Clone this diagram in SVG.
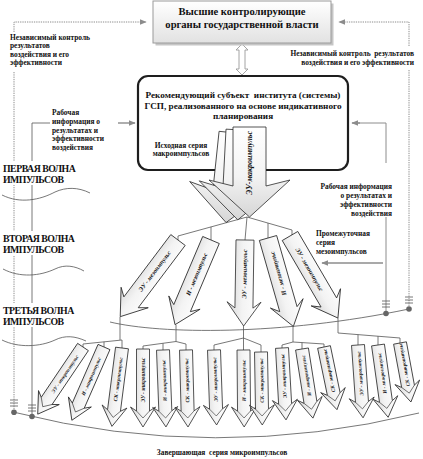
<svg xmlns="http://www.w3.org/2000/svg" width="423" height="459" viewBox="0 0 423 459">
<defs>
<style>
.t{font-family:'Liberation Serif','Times New Roman',serif;font-weight:bold;fill:#111}
.s{font-size:7.4px}
.w{font-size:9.8px;letter-spacing:-0.5px}
.b{font-size:10.6px}
.m{font-size:9.2px}
.ml{font-size:6.3px;font-style:italic;text-anchor:middle}
.mi{font-size:5.2px;font-style:italic;text-anchor:middle}
.arr{fill:url(#gA);stroke:#2a2a2a;stroke-width:0.8;stroke-linejoin:miter}
.v{fill:none;stroke:#2a2a2a;stroke-width:0.6}
.ln{fill:none;stroke:#555;stroke-width:0.8}
.gl{fill:none;stroke:#8c8c8c;stroke-width:1}
.dt{fill:none;stroke:#808080;stroke-width:0.9;stroke-dasharray:1.3,1}
.ga{fill:none;stroke:#8c8c8c;stroke-width:1.4}
.gnd{fill:#666}
</style>
<linearGradient id="gB" x1="0" y1="0" x2="0" y2="1"><stop offset="0" stop-color="#ffffff"/><stop offset="1" stop-color="#e2e2e2"/></linearGradient>
<linearGradient id="gA" x1="0" y1="0" x2="0" y2="1"><stop offset="0" stop-color="#ffffff"/><stop offset="0.55" stop-color="#f3f3f3"/><stop offset="1" stop-color="#d6d6d6"/></linearGradient>
<marker id="mg" viewBox="0 0 10 8" refX="9" refY="4" markerWidth="7" markerHeight="6" orient="auto" markerUnits="userSpaceOnUse"><path d="M0,0 L10,4 L0,8 Z" fill="#8c8c8c"/></marker>
<path id="mac" d="M233,127 H266 V186 L290,180 L249.5,217 L209,180 L233,186 Z"/>
</defs>
<rect width="423" height="459" fill="#fff"/>

<g id="connectors">
<path class="dt" d="M14,32 V22 H146" marker-end="url(#mg)"/>
<path class="dt" d="M14,72 V412"/>
<path class="dt" d="M409,46 V22 H339" marker-end="url(#mg)"/>
<path class="dt" d="M409,70 V309"/>
<path class="ln" d="M50,123 H32 V416.5"/>
<path class="ga" d="M118,123 H135" marker-end="url(#mg)"/>
<path class="gl" d="M386,163 V123 H358"/>
<path class="ga" d="M360,123 H352" marker-end="url(#mg)"/>
<path class="gl" d="M386,217 V313.5"/>
<path class="ga" d="M153,163 H215" marker-end="url(#mg)"/>
<path class="ga" d="M383,263 H322" marker-end="url(#mg)"/>
<path d="M242,44 L248,50 L245,50 L245,69 L248,69 L242,75 L236,69 L239,69 L239,50 L236,50 Z" fill="#fff" stroke="#9a9a9a" stroke-width="0.9"/>
<path class="ln" d="M178,240 V236 L247,217 L292,230 V236 M211,226.9 V240 M268,223.1 V238 M247,217 L245,240"/>
<path class="ln" d="M110,322 C160,334 280,336 409,309"/>
<path class="ln" d="M13,412 Q215,463 419,413"/>
<path class="ln" d="M120,317 V340 M83,347 V344 L122,340 V348 M104,341.8 V347"/>
<path class="ln" d="M176,325 V341.5 M143,349 V346 L176,341.5 L186,344 V350 M163,343.3 V350"/>
<path class="ln" d="M243.5,326 V350 M214,350 V345 L243.5,338 L261,345 V352"/>
<path class="ln" d="M293,326 V342 M282,348 V345 L293,342 L324,344 V347 M302,342.6 V349"/>
<path class="ln" d="M338,318 V333 L400,338 V343 M358,334.6 V345 M378,336.2 V345"/>
<path class="ln" d="M10,400 H18 M10,403 H18 M10,406 H18 M28,405 H36 M28,408 H36 M28,411 H36 M382,301 H390 M382,304 H390 M382,307 H390 M405,297 H413 M405,300 H413 M405,303 H413"/>
<circle class="gnd" cx="14" cy="412.2" r="2.8"/>
<circle class="gnd" cx="32" cy="416.5" r="2.8"/>
<circle class="gnd" cx="386" cy="313.5" r="2.8"/>
<circle class="gnd" cx="409" cy="309" r="2.8"/>
</g>

<g id="top-box">
<rect x="155.5" y="3.5" width="178" height="42" fill="#c6c6c6"/>
<rect x="153" y="1" width="178" height="42" fill="url(#gB)" stroke="#9a9a9a" stroke-width="1"/>
<text class="t b" x="242" y="15" text-anchor="middle">Высшие контролирующие</text>
<text class="t b" x="242" y="28" text-anchor="middle">органы государственной власти</text>
</g>

<g id="mid-box">
<rect x="138" y="76" width="210" height="94" rx="10" fill="#fff" stroke="#1e1e1e" stroke-width="2.2"/>
<text class="t m" x="243" y="98" text-anchor="middle">Рекомендующий субъект&#160; института (системы)</text>
<text class="t m" x="243" y="108.5" text-anchor="middle">ГСП, реализованного на основе индикативного</text>
<text class="t m" x="243" y="118.5" text-anchor="middle">планирования</text>
</g>

<g id="labels">
<text class="t s" x="10" y="39.5">Независимый контроль</text>
<text class="t s" x="10" y="48">результатов</text>
<text class="t s" x="10" y="56.5">воздействия и его</text>
<text class="t s" x="10" y="65">эффективности</text>
<text class="t s" x="414" y="55.5" text-anchor="end">Независимый контроль&#160; результатов</text>
<text class="t s" x="414" y="65" text-anchor="end">воздействия и его эффективности</text>
<text class="t s" x="52" y="114.5">Рабочая</text>
<text class="t s" x="52" y="124">информация о</text>
<text class="t s" x="52" y="132.5">результатах и</text>
<text class="t s" x="52" y="141">эффективности</text>
<text class="t s" x="52" y="149.5">воздействия</text>
<text class="t s" x="181" y="147.5" text-anchor="middle">Исходная серия</text>
<text class="t s" x="181" y="156" text-anchor="middle">макроимпульсов</text>
<text class="t s" x="392" y="188.5" text-anchor="end">Рабочая информация</text>
<text class="t s" x="392" y="197.5" text-anchor="end">о результатах и</text>
<text class="t s" x="392" y="206.5" text-anchor="end">эффективности</text>
<text class="t s" x="392" y="215.5" text-anchor="end">воздействия</text>
<text class="t s" x="316" y="235.5">Промежуточная</text>
<text class="t s" x="316" y="244.5">серия</text>
<text class="t s" x="316" y="254">мезоимпульсов</text>
<text class="t s" x="222" y="455" text-anchor="middle">Завершающая&#160; серия микроимпульсов</text>
</g>

<g id="waves">
<rect x="0" y="161" width="78" height="24" fill="#fff"/>
<text class="t w" x="3" y="171.5">ПЕРВАЯ ВОЛНА</text>
<text class="t w" x="3" y="182.5">ИМПУЛЬСОВ</text>
<path class="ln" d="M2,195 C20,204 40,200 55,192 C66,187 78,187 90,193"/>
<rect x="0" y="231" width="78" height="24" fill="#fff"/>
<text class="t w" x="3" y="241.5">ВТОРАЯ ВОЛНА</text>
<text class="t w" x="3" y="252.5">ИМПУЛЬСОВ</text>
<path class="ln" d="M3,269 C20,278 40,276 55,269 C65,264 75,266 84,271"/>
<rect x="0" y="303" width="78" height="24" fill="#fff"/>
<text class="t w" x="3" y="313.5">ТРЕТЬЯ ВОЛНА</text>
<text class="t w" x="3" y="324.5">ИМПУЛЬСОВ</text>
<path class="ln" d="M2,340 C18,348 40,347 55,340 C65,335 75,336 86,341"/>
</g>

<g id="macro-impulse">
<use href="#mac" class="arr" transform="translate(-14,6) rotate(6,249,127)"/>
<use href="#mac" class="arr" transform="translate(-7,3) rotate(3,249,127)"/>
<use href="#mac" class="arr"/>
<text class="t" transform="translate(252,163) rotate(-90)" text-anchor="middle" style="font-size:8px;font-style:italic">ЭУ-макроимпульс</text>
</g>

<g id="meso-1" transform="translate(178,240) rotate(127)"><path class="arr" d="M0,-9 L78,-9 L72,-17 L96,0 L72,17 L78,9 L0,9 Z"/><text class="t ml" transform="translate(39,0) rotate(180)" y="2.2">ЭУ - мезоимпульс</text></g>
<g id="meso-2" transform="translate(211,240) rotate(113)"><path class="arr" d="M0,-9 L74,-9 L68,-17 L92,0 L68,17 L74,9 L0,9 Z"/><text class="t ml" transform="translate(37,0) rotate(180)" y="2.2">И - мезоимпульс</text></g>
<g id="meso-3" transform="translate(245,240) rotate(90.9)"><path class="arr" d="M0,-9 L68,-9 L62,-17 L86,0 L62,17 L68,9 L0,9 Z"/><text class="t ml" transform="translate(34,0) rotate(180)" y="2.2">ЭУ - мезоимпульс</text></g>
<g id="meso-4" transform="translate(268,238) rotate(74)"><path class="arr" d="M0,-9 L74,-9 L68,-17 L92,0 L68,17 L74,9 L0,9 Z"/><text class="t ml" transform="translate(37,0) rotate(180)" y="2.2">И - мезоимпульс</text></g>
<g id="meso-5" transform="translate(290,236) rotate(59.7)"><path class="arr" d="M0,-9 L77,-9 L71,-17 L95,0 L71,17 L77,9 L0,9 Z"/><text class="t ml" x="38.5" y="2.2">ЭУ - мезоимпульс</text></g>

<g id="micro-1" transform="translate(83,347) rotate(124)"><path class="arr" d="M0,-6.5 L65,-6.5 L61,-12.5 L81,0 L61,12.5 L65,6.5 L0,6.5 Z"/><path class="v" d="M65,-6.5 L72,0 L65,6.5"/><text class="t mi" transform="translate(32.5,0) rotate(180)" y="1.9">ЭУ - микроимпульс</text></g>
<g id="micro-2" transform="translate(104,347) rotate(113.7)"><path class="arr" d="M0,-6.5 L64,-6.5 L60,-12.5 L80,0 L60,12.5 L64,6.5 L0,6.5 Z"/><path class="v" d="M64,-6.5 L71,0 L64,6.5"/><text class="t mi" transform="translate(32,0) rotate(180)" y="1.9">И - микроимпульс</text></g>
<g id="micro-3" transform="translate(122,348) rotate(97.3)"><path class="arr" d="M0,-6.5 L63,-6.5 L59,-12.5 L79,0 L59,12.5 L63,6.5 L0,6.5 Z"/><path class="v" d="M63,-6.5 L70,0 L63,6.5"/><text class="t mi" transform="translate(31.5,0) rotate(180)" y="1.9">СК - микроимпульс</text></g>
<g id="micro-4" transform="translate(143,349) rotate(90)"><path class="arr" d="M0,-6.5 L62,-6.5 L58,-12.5 L78,0 L58,12.5 L62,6.5 L0,6.5 Z"/><path class="v" d="M62,-6.5 L69,0 L62,6.5"/><text class="t mi" transform="translate(31,0) rotate(180)" y="1.9">ЭУ - микроимпульс</text></g>
<g id="micro-5" transform="translate(163,350) rotate(87.8)"><path class="arr" d="M0,-6.5 L61,-6.5 L57,-12.5 L77,0 L57,12.5 L61,6.5 L0,6.5 Z"/><path class="v" d="M61,-6.5 L68,0 L61,6.5"/><text class="t mi" transform="translate(30.5,0) rotate(180)" y="1.9">И - микроимпульс</text></g>
<g id="micro-6" transform="translate(186,350) rotate(88.5)"><path class="arr" d="M0,-6.5 L61,-6.5 L57,-12.5 L77,0 L57,12.5 L61,6.5 L0,6.5 Z"/><path class="v" d="M61,-6.5 L68,0 L61,6.5"/><text class="t mi" transform="translate(30.5,0) rotate(180)" y="1.9">СК - микроимпульс</text></g>
<g id="micro-7" transform="translate(214,350) rotate(88)"><path class="arr" d="M0,-6.5 L59,-6.5 L55,-12.5 L75,0 L55,12.5 L59,6.5 L0,6.5 Z"/><path class="v" d="M59,-6.5 L66,0 L59,6.5"/><text class="t mi" transform="translate(29.5,0) rotate(180)" y="1.9">ЭУ - микроимпульс</text></g>
<g id="micro-8" transform="translate(243.5,350) rotate(89.5)"><path class="arr" d="M0,-6.5 L61,-6.5 L57,-12.5 L77,0 L57,12.5 L61,6.5 L0,6.5 Z"/><path class="v" d="M61,-6.5 L68,0 L61,6.5"/><text class="t mi" transform="translate(30.5,0) rotate(180)" y="1.9">И - микроимпульс</text></g>
<g id="micro-9" transform="translate(261,352) rotate(89)"><path class="arr" d="M0,-6.5 L57,-6.5 L53,-12.5 L73,0 L53,12.5 L57,6.5 L0,6.5 Z"/><path class="v" d="M57,-6.5 L64,0 L57,6.5"/><text class="t mi" transform="translate(28.5,0) rotate(180)" y="1.9">СК - микроимпульс</text></g>
<g id="micro-10" transform="translate(282,348) rotate(86.8)"><path class="arr" d="M0,-6.5 L56,-6.5 L52,-12.5 L72,0 L52,12.5 L56,6.5 L0,6.5 Z"/><path class="v" d="M56,-6.5 L63,0 L56,6.5"/><text class="t mi" transform="translate(28,0) rotate(180)" y="1.9">ЭУ - микроимпульс</text></g>
<g id="micro-11" transform="translate(302,349) rotate(81)"><path class="arr" d="M0,-6.5 L54,-6.5 L50,-12.5 L70,0 L50,12.5 L54,6.5 L0,6.5 Z"/><path class="v" d="M54,-6.5 L61,0 L54,6.5"/><text class="t mi" transform="translate(27,0) rotate(180)" y="1.9">И - микроимпульс</text></g>
<g id="micro-12" transform="translate(324,347) rotate(78.3)"><path class="arr" d="M0,-6.5 L48,-6.5 L44,-12.5 L64,0 L44,12.5 L48,6.5 L0,6.5 Z"/><path class="v" d="M48,-6.5 L55,0 L48,6.5"/><text class="t mi" transform="translate(24,0) rotate(180)" y="1.9">СК - микроимпульс</text></g>
<g id="micro-13" transform="translate(358,345) rotate(86)"><path class="arr" d="M0,-6.5 L57,-6.5 L53,-12.5 L73,0 L53,12.5 L57,6.5 L0,6.5 Z"/><path class="v" d="M57,-6.5 L64,0 L57,6.5"/><text class="t mi" transform="translate(28.5,0) rotate(180)" y="1.9">ЭУ - микроимпульс</text></g>
<g id="micro-14" transform="translate(378,345) rotate(82)"><path class="arr" d="M0,-6.5 L57,-6.5 L53,-12.5 L73,0 L53,12.5 L57,6.5 L0,6.5 Z"/><path class="v" d="M57,-6.5 L64,0 L57,6.5"/><text class="t mi" transform="translate(28.5,0) rotate(180)" y="1.9">И - микроимпульс</text></g>
<g id="micro-15" transform="translate(400,343) rotate(79.5)"><path class="arr" d="M0,-6.5 L44,-6.5 L40,-12.5 L60,0 L40,12.5 L44,6.5 L0,6.5 Z"/><path class="v" d="M44,-6.5 L51,0 L44,6.5"/><text class="t mi" transform="translate(22,0) rotate(180)" y="1.9">СК - микроимпульс</text></g>
</svg>
